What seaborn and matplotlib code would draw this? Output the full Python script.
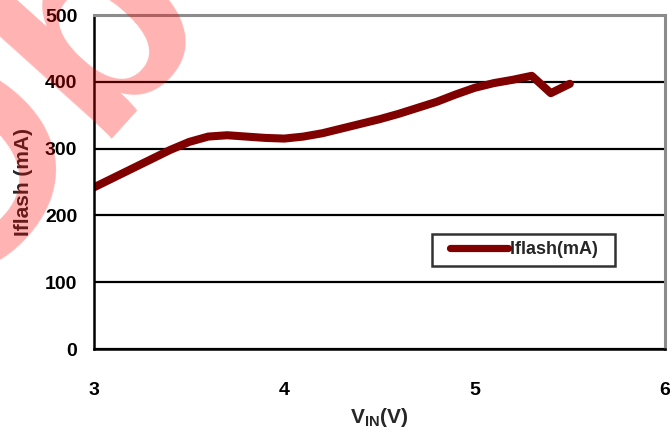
import matplotlib
matplotlib.use('Agg')
import matplotlib.pyplot as plt
import seaborn as sns
from matplotlib.legend_handler import HandlerLine2D

# measured Iflash vs input voltage
vin = [3.0, 3.1, 3.2, 3.3, 3.4, 3.5, 3.6, 3.7, 3.8, 3.9,
       4.0, 4.1, 4.2, 4.3, 4.4, 4.5, 4.6, 4.7, 4.8, 4.9,
       5.0, 5.1, 5.2, 5.3, 5.4, 5.5]
iflash = [242, 256, 270, 284, 298, 310, 318, 320, 318, 316,
          315, 318, 323, 330, 337, 344, 352, 361, 370, 381,
          391, 398, 403, 409, 383, 397]

x_ticks = [3, 4, 5, 6]
y_ticks = [0, 100, 200, 300, 400, 500]
series_label = 'Iflash(mA)'
watermark = 'Obsolete'

sns.set_style('white')
plt.rcParams['font.family'] = ['Liberation Sans', 'DejaVu Sans']
plt.rcParams['font.weight'] = 'bold'
plt.rcParams['mathtext.fontset'] = 'custom'
plt.rcParams['mathtext.bf'] = 'Liberation Sans:bold'
plt.rcParams['mathtext.rm'] = 'Liberation Sans:bold'

fig = plt.figure(figsize=(6.7, 4.29), dpi=100)
ax = fig.add_axes([94 / 670, 1 - 349 / 429, 571 / 670, 334 / 429])

sns.lineplot(x=vin, y=iflash, ax=ax, color='#800000', linewidth=5.8,
             label=series_label, solid_joinstyle='round', solid_capstyle='round')

ax.set_xlim(3, 6)
ax.set_ylim(0, 500)
ax.set_xticks(x_ticks)
ax.set_yticks(y_ticks)
ax.yaxis.grid(True, color='black', linewidth=1.6)
ax.xaxis.grid(False)

for side in ['left', 'bottom']:
    ax.spines[side].set_color('black')
    ax.spines[side].set_linewidth(1.8)
for side in ['top', 'right']:
    ax.spines[side].set_color('#8c8c8c')
    ax.spines[side].set_linewidth(2.2)

ax.tick_params(axis='y', direction='out', length=5, width=1.6, pad=7,
               labelsize=14, colors='black')
ax.tick_params(axis='x', direction='out', length=6, width=1.6, pad=18,
               labelsize=14, colors='black')

ax.set_ylabel('Iflash (mA)', fontsize=15, fontweight='bold')
ax.yaxis.label.set_va('center')
ax.yaxis.set_label_coords(-0.124, 0.5)
ax.set_xlabel(r'$\mathbf{V_{IN}}$(V)', fontsize=15, fontweight='bold')
ax.xaxis.set_label_coords(0.5, -0.221)
ax.xaxis.label.set_va('baseline')

leg = ax.legend(loc='upper left', bbox_to_anchor=(0.592, 0.344),
                fontsize=13, frameon=True, fancybox=False, shadow=False,
                borderpad=0.4, handlelength=3.8, handletextpad=0.1,
                borderaxespad=0,
                handler_map={plt.Line2D: HandlerLine2D(xpad=0.6)})
leg.get_frame().set_edgecolor('black')
leg.get_frame().set_linewidth(1.8)
leg.get_texts()[0].set_text(series_label + '  ')
for h in leg.get_lines():
    h.set_linewidth(5.2)

# faint diagonal watermark across the top-left corner
fig.text(-0.078, 0.282, watermark, fontsize=205, fontweight='bold',
         color='red', alpha=0.3, rotation=48, rotation_mode='anchor',
         ha='left', va='baseline', zorder=10)

fig.savefig('out.png', dpi=100)
plt.close(fig)
